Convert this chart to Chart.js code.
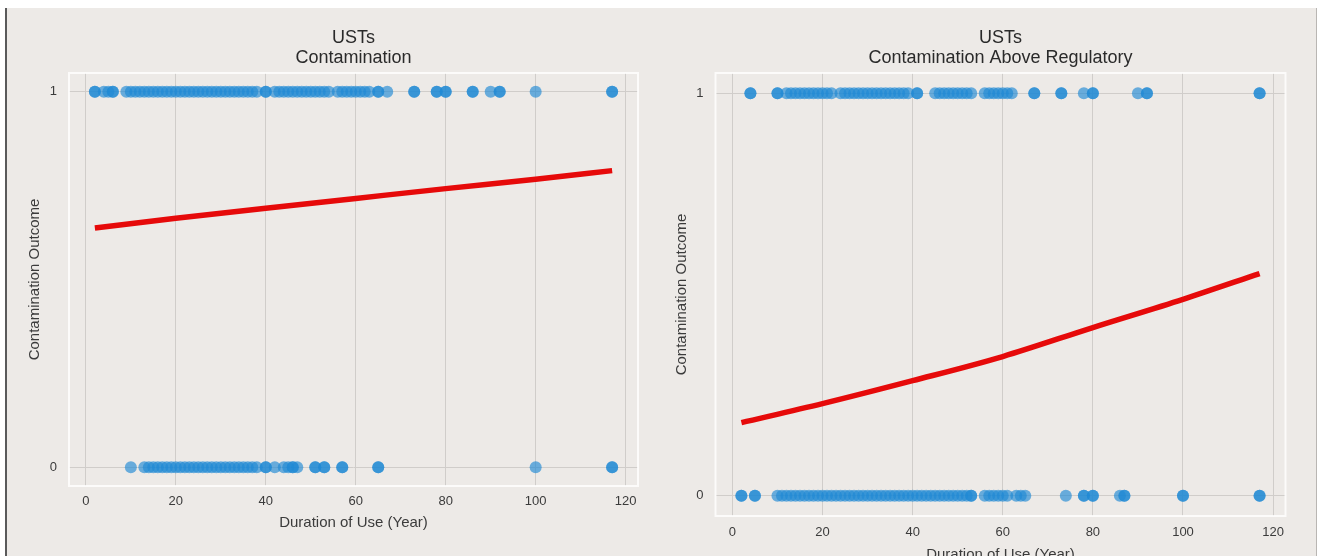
<!DOCTYPE html>
<html>
<head>
<meta charset="utf-8">
<script src="https://cdn.jsdelivr.net/npm/chart.js@4.4.1/dist/chart.umd.min.js"></script>
<style>
  html, body { margin:0; padding:0; background:#fff; overflow:hidden; width:1320px; height:556px; }
  #frame { position:absolute; left:5px; top:8px; width:1309px; height:560px; background:#edeae7; border-left:2px solid #5a5a5a; border-right:1px solid #b9b6b3; }
  canvas { position:absolute; top:0; }
  #c1 { left:0; }
  #c2 { left:660px; }
</style>
</head>
<body>
<div id="frame"></div>
<canvas id="c1" width="660" height="556"></canvas>
<canvas id="c2" width="660" height="580"></canvas>
<script>
const xTicks = [0, 20, 40, 60, 80, 100, 120];
const yTicks = [0, 1];

// USTs - Contamination (duration of use in years, outcome 1 / 0)
const leftOnes = [2, 2, 4, 5, 6, 6, 9, 10, 11, 12, 13, 14, 15, 16, 17, 18, 19, 20, 21, 22, 23, 24, 25, 26, 27, 28, 29, 30,
  31, 32, 33, 34, 35, 36, 37, 38, 40, 40, 42, 43, 44, 45, 46, 47, 48, 49, 50, 51, 52, 53, 54, 56, 57, 58, 59, 60, 61,
  62, 63, 65, 65, 67, 73, 73, 78, 78, 80, 80, 86, 86, 90, 92, 92, 100, 117, 117];
const leftZeros = [10, 13, 14, 15, 16, 17, 18, 19, 20, 21, 22, 23, 24, 25, 26, 27, 28, 29, 30, 31, 32, 33, 34, 35, 36, 37, 38,
  40, 40, 42, 44, 45, 46, 46, 47, 51, 51, 53, 53, 57, 57, 65, 65, 100, 117, 117];
const leftCurveX = [2, 20, 40, 60, 80, 100, 117];
const leftCurveY = [0.637, 0.663, 0.690, 0.716, 0.742, 0.767, 0.790];

// USTs - Contamination Above Regulatory
const rightOnes = [4, 4, 10, 10, 12, 13, 14, 15, 16, 17, 18, 19, 20, 21, 22, 24, 25, 26, 27, 28, 29, 30, 31, 32, 33, 34, 35,
  36, 37, 38, 39, 41, 41, 45, 46, 47, 48, 49, 50, 51, 52, 53, 56, 57, 58, 59, 60, 61, 62, 67, 67, 73, 73, 78, 80, 80,
  90, 92, 92, 117, 117];
const rightZeros = [2, 2, 5, 5, 10, 11, 12, 13, 14, 15, 16, 17, 18, 19, 20, 21, 22, 23, 24, 25, 26, 27, 28, 29, 30, 31, 32,
  33, 34, 35, 36, 37, 38, 39, 40, 41, 42, 43, 44, 45, 46, 47, 48, 49, 50, 51, 52, 53, 53, 56, 57, 58, 59, 60, 61,
  63, 64, 65, 74, 78, 78, 80, 80, 86, 87, 87, 100, 100, 117, 117];
const rightCurveX = [2, 20, 40, 60, 80, 100, 117];
const rightCurveY = [0.182, 0.229, 0.286, 0.346, 0.418, 0.488, 0.552];

const dotColor = 'rgba(30,136,212,0.65)';
const gridColor = '#d0cdca';
const txt = '#3b3b3b';
const fam = "'Liberation Sans', Arial, sans-serif";

// white spines round the plot area
const areaFrame = {
  id: 'areaFrame',
  beforeDatasetsDraw(chart) {
    const a = chart.chartArea, ctx = chart.ctx;
    ctx.save();
    ctx.strokeStyle = 'rgba(255,255,255,0.8)';
    ctx.lineWidth = 2;
    ctx.strokeRect(a.left, a.top, a.right - a.left, a.bottom - a.top);
    ctx.restore();
  }
};

function pts(xs, y) { return xs.map(x => ({ x: x, y: y })); }

function dibujar(id, title, ones, zeros, cx, cy, lay) {
  new Chart(document.getElementById(id), {
    type: 'scatter',
    data: {
      datasets: [
        { data: pts(ones, 1), backgroundColor: dotColor, borderWidth: 0, pointRadius: 6, pointHoverRadius: 6 },
        { data: pts(zeros, 0), backgroundColor: dotColor, borderWidth: 0, pointRadius: 6, pointHoverRadius: 6 },
        {
          type: 'line',
          data: cx.map((x, i) => ({ x: x, y: cy[i] })),
          borderColor: '#e60a0a', borderWidth: 5.5, pointRadius: 0, fill: false,
          cubicInterpolationMode: 'monotone', borderCapStyle: 'butt'
        }
      ]
    },
    options: {
      responsive: false,
      animation: false,
      layout: { padding: lay.pad },
      plugins: {
        legend: { display: false },
        tooltip: { enabled: false },
        title: {
          display: true, text: title, fullSize: false, color: '#2a2a2a',
          font: { family: fam, size: 18, weight: 'normal', lineHeight: 1.111 },
          padding: { top: 0, bottom: 5 }
        }
      },
      scales: {
        x: {
          type: 'linear', min: -3.75, max: 122.75,
          afterBuildTicks: s => { s.ticks = xTicks.map(v => ({ value: v })); },
          afterFit: s => { s.height = lay.xh; },
          grid: { color: gridColor, drawTicks: false, lineWidth: 1 },
          border: { display: false },
          ticks: { color: txt, padding: lay.xtp, font: { family: fam, size: 13 } },
          title: {
            display: true, text: 'Duration of Use (Year)', color: txt,
            font: { family: fam, size: 15 }, padding: { top: 0, bottom: lay.xtb }
          }
        },
        y: {
          type: 'linear', min: -0.05, max: 1.05,
          afterBuildTicks: s => { s.ticks = yTicks.map(v => ({ value: v })); },
          afterFit: s => { s.width = lay.yw; },
          grid: { color: gridColor, drawTicks: false, lineWidth: 1 },
          border: { display: false },
          ticks: { color: txt, padding: lay.ytp, font: { family: fam, size: 13 } },
          title: {
            display: true, text: 'Contamination Outcome', color: txt,
            font: { family: fam, size: 15 }, padding: { top: lay.ytt, bottom: 0 }
          }
        }
      }
    },
    plugins: [areaFrame]
  });
}

dibujar('c1', ['USTs', 'Contamination'], leftOnes, leftZeros, leftCurveX, leftCurveY,
  { pad: { top: 28, left: 8, right: 22, bottom: 0 }, yw: 61, xh: 70, xtp: 8, xtb: 24, ytp: 12, ytt: 18 });
dibujar('c2', ['USTs', 'Contamination Above Regulatory'], rightOnes, rightZeros, rightCurveX, rightCurveY,
  { pad: { top: 28, left: 4, right: 34.5, bottom: 0 }, yw: 51.5, xh: 64, xtp: 8.5, xtb: 16, ytp: 12, ytt: 9 });
</script>
</body>
</html>
